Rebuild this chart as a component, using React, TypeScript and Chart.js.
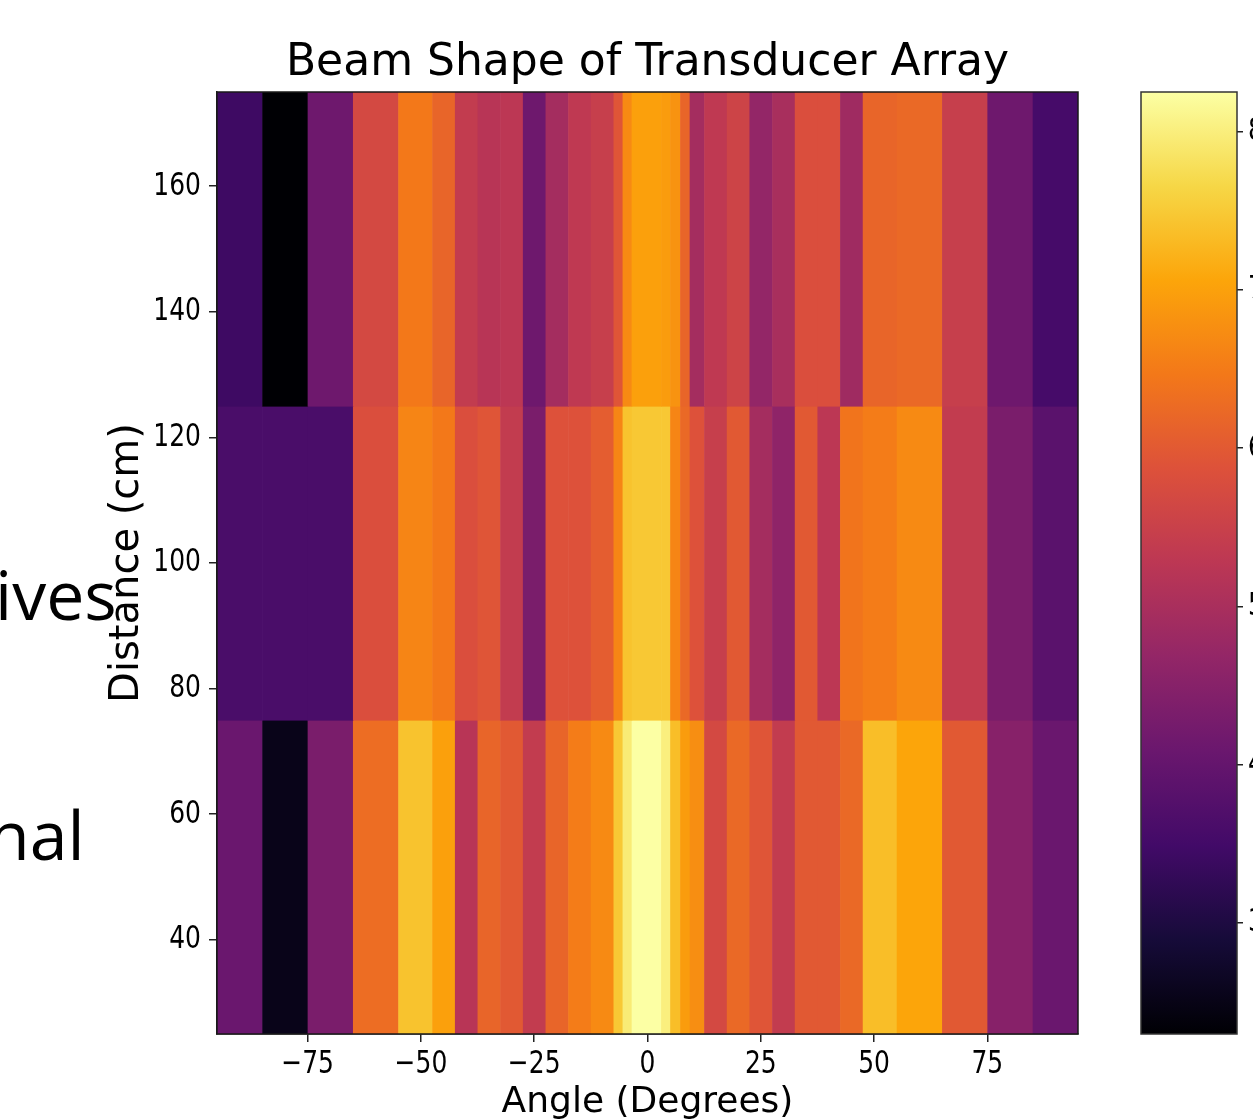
import React, { useEffect, useRef } from 'react';
import { Chart, registerables } from 'chart.js';

Chart.register(...registerables);

// ---------- data ----------
const TITLE = 'Beam Shape of Transducer Array';
const X_LABEL = 'Angle (Degrees)';
const Y_LABEL = 'Distance (cm)';

// column edges along the angle axis (degrees)
const ANGLE_EDGES = [-95, -85, -75, -65, -55, -47.5, -42.5, -37.5, -32.5, -27.5, -22.5, -17.5, -12.5, -7.5, -5.5, -3.5, 3, 5, 7.2, 9.3, 12.5, 17.5, 22.5, 27.5, 32.5, 37.5, 42.5, 47.5, 55, 65, 75, 85, 95];
// row edges along the distance axis (cm)
const DIST_EDGES = [25, 75, 125, 175];

// one value per column, for each distance row
const ROW_50 = [4.09, 2.54, 4.32, 6.29, 7.42, 7.0, 5.22, 6.17, 5.99, 5.39, 6.17, 6.52, 6.7, 7.48, 7.95, 8.25, 8.01, 7.36, 6.94, 6.76, 5.69, 6.23, 5.93, 5.39, 5.99, 5.99, 6.23, 7.36, 7.06, 5.99, 4.5, 4.09];
const ROW_100 = [3.61, 3.61, 3.61, 5.81, 6.64, 6.47, 5.81, 5.93, 5.39, 4.32, 5.87, 5.87, 6.05, 6.64, 7.42, 7.48, 7.48, 6.64, 6.23, 5.87, 5.45, 5.99, 4.92, 4.62, 5.99, 5.28, 6.41, 6.52, 6.7, 5.39, 4.32, 3.85];
const ROW_150 = [3.43, 2.3, 4.14, 5.69, 6.47, 6.17, 5.39, 5.22, 5.28, 4.14, 4.92, 5.33, 5.45, 5.93, 6.7, 7.0, 6.94, 6.82, 6.17, 4.92, 5.33, 5.57, 4.68, 4.98, 5.81, 5.81, 4.86, 6.17, 6.23, 5.45, 4.14, 3.55];

const X_TICKS = [-75, -50, -25, 0, 25, 50, 75];
const Y_TICKS = [40, 60, 80, 100, 120, 140, 160];
const CB_TICKS = [3, 4, 5, 6, 7, 8];
const SIDE_TEXT = ['ives', 'nal'];

// ---------- colour map ----------
const INFERNO = ['#000004', '#160b39', '#420a68', '#6a176e', '#932667', '#bc3754', '#dd513a', '#f37819', '#fca50a', '#f6d746', '#fcffa4'];

function hexToRgb(h: string) {
  const n = parseInt(h.slice(1), 16);
  return [(n >> 16) & 255, (n >> 8) & 255, n & 255];
}
const INFERNO_RGB = INFERNO.map(hexToRgb);

function inferno(t: number) {
  const tt = Math.max(0, Math.min(1, t)) * (INFERNO_RGB.length - 1);
  const i = Math.min(INFERNO_RGB.length - 2, Math.floor(tt));
  const f = tt - i;
  const a = INFERNO_RGB[i];
  const b = INFERNO_RGB[i + 1];
  const c = a.map((v, k) => Math.round(v + (b[k] - v) * f));
  return `rgb(${c[0]},${c[1]},${c[2]})`;
}

const ROWS = [ROW_50, ROW_100, ROW_150];
const ALL = ROWS.flat();
const VMIN = Math.min(...ALL);
const VMAX = Math.max(...ALL);

const TICK_FONT = '"DejaVu Sans", sans-serif';
const LABEL_FONT = '"DejaVu Sans", sans-serif';
const TICK_SQUEEZE = 0.78;

// draw the library's own tick label items, horizontally condensed
function squeezeLabels(scale: any, sx: number) {
  if (!scale || scale.__squeezed) return;
  scale.__squeezed = true;
  scale.drawLabels = function (chartArea: any) {
    if (!this.options.ticks.display) return;
    const ctx = this.ctx;
    const items = this.getLabelItems(chartArea);
    for (const item of items) {
      const o = item.options;
      ctx.save();
      ctx.font = item.font.string;
      ctx.fillStyle = o.color;
      ctx.textAlign = o.textAlign;
      ctx.textBaseline = o.textBaseline;
      ctx.translate(o.translation[0], o.translation[1]);
      if (o.rotation) ctx.rotate(o.rotation);
      ctx.scale(sx, 1);
      const lines = Array.isArray(item.label) ? item.label : [item.label];
      let y = item.textOffset;
      for (const line of lines) {
        ctx.fillText(String(line), 0, y);
        y += item.font.lineHeight;
      }
      ctx.restore();
    }
  };
}

const squeezePlugin = {
  id: 'squeezeTicks',
  beforeDraw(chart: any) {
    Object.values(chart.scales).forEach((s: any) => squeezeLabels(s, TICK_SQUEEZE));
  },
};

const heatmapPlugin = {
  id: 'heatmapCells',
  beforeDatasetsDraw(chart: any) {
    const { ctx, chartArea, scales } = chart;
    const x = scales.x;
    const y = scales.y;
    ctx.save();
    ctx.beginPath();
    ctx.rect(chartArea.left, chartArea.top, chartArea.right - chartArea.left, chartArea.bottom - chartArea.top);
    ctx.clip();
    ROWS.forEach((row, r) => {
      const yTop = y.getPixelForValue(DIST_EDGES[r + 1]);
      const yBot = y.getPixelForValue(DIST_EDGES[r]);
      row.forEach((v, c) => {
        const x0 = x.getPixelForValue(ANGLE_EDGES[c]);
        const x1 = x.getPixelForValue(ANGLE_EDGES[c + 1]);
        ctx.fillStyle = inferno((v - VMIN) / (VMAX - VMIN));
        ctx.fillRect(x0, yTop, x1 - x0 + 0.6, yBot - yTop + 0.6);
      });
    });
    ctx.restore();
  },
  afterDraw(chart: any) {
    const { ctx, chartArea } = chart;
    ctx.save();
    ctx.strokeStyle = '#1a1a1a';
    ctx.lineWidth = 1.5;
    ctx.strokeRect(chartArea.left, chartArea.top, chartArea.right - chartArea.left, chartArea.bottom - chartArea.top);
    ctx.fillStyle = '#000';
    ctx.font = '68px "Open Sans", "Noto Sans", sans-serif';
    ctx.textBaseline = 'alphabetic';
    ctx.textAlign = 'left';
    ctx.fillText(SIDE_TEXT[0], -5, 620);
    ctx.fillText(SIDE_TEXT[1], -12, 860);
    ctx.restore();
  },
};

const colorbarPlugin = {
  id: 'colorbarFill',
  beforeDatasetsDraw(chart: any) {
    const { ctx, chartArea, scales } = chart;
    const y = scales.y;
    const yLo = y.getPixelForValue(VMIN);
    const yHi = y.getPixelForValue(VMAX);
    const g = ctx.createLinearGradient(0, yLo, 0, yHi);
    INFERNO.forEach((c, i) => g.addColorStop(i / (INFERNO.length - 1), c));
    ctx.save();
    ctx.fillStyle = g;
    ctx.fillRect(chartArea.left, chartArea.top, chartArea.right - chartArea.left, chartArea.bottom - chartArea.top);
    ctx.strokeStyle = '#333';
    ctx.lineWidth = 1.5;
    ctx.strokeRect(chartArea.left, chartArea.top, chartArea.right - chartArea.left, chartArea.bottom - chartArea.top);
    ctx.restore();
  },
};

export default function App() {
  const mainRef = useRef<HTMLCanvasElement | null>(null);
  const cbRef = useRef<HTMLCanvasElement | null>(null);

  useEffect(() => {
    const centers: any[] = [];
    ROWS.forEach((row, r) =>
      row.forEach((v, c) =>
        centers.push({ x: (ANGLE_EDGES[c] + ANGLE_EDGES[c + 1]) / 2, y: (DIST_EDGES[r] + DIST_EDGES[r + 1]) / 2, v })
      )
    );

    const main = new Chart(mainRef.current as HTMLCanvasElement, {
      type: 'scatter',
      data: { datasets: [{ data: centers, pointRadius: 0, pointHoverRadius: 0 }] },
      options: {
        responsive: false,
        animation: false,
        devicePixelRatio: 1,
        layout: { padding: { left: 0, right: 62, top: 0, bottom: 0 } },
        plugins: {
          legend: { display: false },
          tooltip: { enabled: false },
          title: {
            display: true,
            text: TITLE,
            fullSize: false,
            color: '#000',
            font: { family: LABEL_FONT, size: 44, weight: 'normal' },
            padding: { top: 37.6, bottom: 1.6 },
          },
        },
        scales: {
          x: {
            type: 'linear',
            min: ANGLE_EDGES[0],
            max: ANGLE_EDGES[ANGLE_EDGES.length - 1],
            afterBuildTicks: (s: any) => { s.ticks = X_TICKS.map((v) => ({ value: v })); },
            afterFit: (s: any) => { s.height = 96; },
            ticks: {
              autoSkip: false,
              maxRotation: 0,
              minRotation: 0,
              padding: 3,
              color: '#000',
              font: { family: TICK_FONT, size: 32 },
              callback: (v: any) => (v < 0 ? '\u2212' + Math.abs(v) : String(v)),
            },
            grid: { display: true, drawOnChartArea: false, drawTicks: true, tickLength: 8, color: '#222', lineWidth: 1.5 },
            border: { display: true, color: '#1a1a1a', width: 1.5 },
            title: {
              display: true,
              text: X_LABEL,
              color: '#000',
              font: { family: LABEL_FONT, size: 36 },
              padding: { top: 0, bottom: 6 },
            },
          },
          y: {
            type: 'linear',
            min: DIST_EDGES[0],
            max: DIST_EDGES[DIST_EDGES.length - 1],
            afterBuildTicks: (s: any) => { s.ticks = Y_TICKS.map((v) => ({ value: v })); },
            afterFit: (s: any) => { s.width = 217; },
            ticks: {
              autoSkip: false,
              padding: 8,
              color: '#000',
              font: { family: TICK_FONT, size: 32 },
            },
            grid: { display: true, drawOnChartArea: false, drawTicks: true, tickLength: 8, color: '#222', lineWidth: 1.5 },
            border: { display: true, color: '#1a1a1a', width: 1.5 },
            title: {
              display: true,
              text: Y_LABEL,
              color: '#000',
              font: { family: LABEL_FONT, size: 40 },
              padding: { top: 104, bottom: 0 },
            },
          },
        },
      } as any,
      plugins: [squeezePlugin, heatmapPlugin],
    });

    const cb = new Chart(cbRef.current as HTMLCanvasElement, {
      type: 'scatter',
      data: { datasets: [{ data: [{ x: 0.5, y: VMIN }, { x: 0.5, y: VMAX }], pointRadius: 0, pointHoverRadius: 0 }] },
      options: {
        responsive: false,
        animation: false,
        devicePixelRatio: 1,
        layout: { padding: { left: 41, right: 0, top: 92, bottom: 96 } },
        plugins: { legend: { display: false }, tooltip: { enabled: false } },
        scales: {
          x: { type: 'linear', display: false, min: 0, max: 1 },
          y: {
            type: 'linear',
            position: 'right',
            min: VMIN,
            max: VMAX,
            afterBuildTicks: (s: any) => { s.ticks = CB_TICKS.map((v) => ({ value: v })); },
            afterFit: (s: any) => { s.width = 63; },
            ticks: { autoSkip: false, padding: 5, color: '#000', font: { family: TICK_FONT, size: 32 } },
            grid: { display: true, drawOnChartArea: false, drawTicks: true, tickLength: 6, color: '#222', lineWidth: 1.5 },
            border: { display: false },
          },
        },
      } as any,
      plugins: [squeezePlugin, colorbarPlugin],
    });

    return () => {
      main.destroy();
      cb.destroy();
    };
  }, []);

  return (
    <div style={{ position: 'absolute', left: 0, top: 0, width: 1253, height: 1120, overflow: 'hidden', background: '#fff' }}>
      <canvas ref={mainRef} width={1140} height={1130} style={{ position: 'absolute', left: 0, top: 0 }} />
      <canvas ref={cbRef} width={200} height={1130} style={{ position: 'absolute', left: 1100, top: 0 }} />
    </div>
  );
}
